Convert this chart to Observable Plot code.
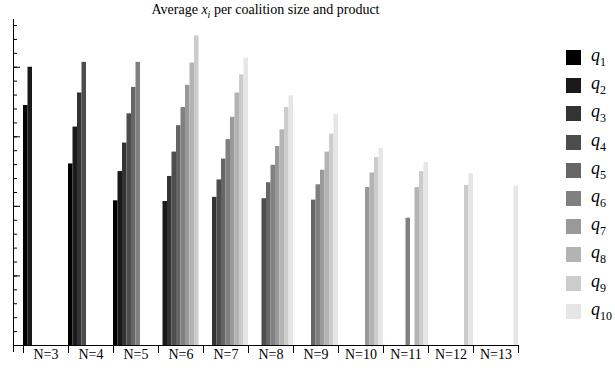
<!DOCTYPE html>
<html><head><meta charset="utf-8">
<script src="https://cdn.jsdelivr.net/npm/d3@7"></script>
<script src="https://cdn.jsdelivr.net/npm/@observablehq/plot@0.6"></script>
<style>
body{margin:0;background:#fff;}
#wrap{position:relative;width:615px;height:368px;font-family:"Liberation Serif","Times New Roman",serif;color:#000;}
#chart svg{position:absolute;left:0;top:0;}
#title{position:absolute;left:0;width:531px;top:1px;text-align:center;font-size:14px;line-height:17px;}
#title sub{font-size:10px;line-height:0;}
#legend{position:absolute;left:566px;top:50px;}
.item{position:relative;height:28.2px;width:49px;}
.sw{position:absolute;left:0;top:0;width:15px;height:15px;}
.lab{position:absolute;left:25px;top:-5px;font-size:18px;line-height:20px;font-style:italic;white-space:nowrap;}
.lab sub{font-style:normal;font-size:12px;line-height:0;}
</style></head>
<body>
<div id="wrap">
  <div id="chart"></div>
  <div id="title">Average <i>x</i><sub><i>i</i></sub> per coalition size and product</div>
  <div id="legend"></div>
</div>
<script>
const coalitions = ["N=3","N=4","N=5","N=6","N=7","N=8","N=9","N=10","N=11","N=12","N=13"];
const products = ["q1","q2","q3","q4","q5","q6","q7","q8","q9","q10"];
const productColors = ["#000000","#1a1a1a","#333333","#4d4d4d","#666666","#808080","#999999","#b3b3b3","#cccccc","#e6e6e6"];

// average x_i per product (q1..q10), null = no bar
const avgN3  = [0.345, 0.400, null, null, null, null, null, null, null, null];
const avgN4  = [0.261, 0.314, 0.363, 0.407, null, null, null, null, null, null];
const avgN5  = [0.208, 0.250, 0.291, 0.333, 0.371, 0.407, null, null, null, null];
const avgN6  = [null, 0.207, 0.243, 0.278, 0.316, 0.342, 0.374, 0.406, 0.445, null];
const avgN7  = [null, null, 0.213, 0.238, 0.268, 0.296, 0.328, 0.363, 0.389, 0.413];
const avgN8  = [null, null, null, 0.211, 0.234, 0.259, 0.286, 0.310, 0.342, 0.359];
const avgN9  = [null, null, null, null, 0.209, 0.231, 0.252, 0.278, 0.304, 0.332];
const avgN10 = [null, null, null, null, null, null, 0.227, 0.248, 0.270, 0.283];
const avgN11 = [null, null, null, null, null, 0.183, null, 0.227, 0.250, 0.263];
const avgN12 = [null, null, null, null, null, null, null, null, 0.230, 0.247];
const avgN13 = [null, null, null, null, null, null, null, null, null, 0.229];

const yMinorTicks = [0,0.02,0.04,0.06,0.08,0.10,0.12,0.14,0.16,0.18,0.20,0.22,0.24,0.26,0.28,0.30,0.32,0.34,0.36,0.38,0.40,0.42,0.44,0.46];
const yMajorTicks = [0,0.1,0.2,0.3,0.4];

const series = [avgN3, avgN4, avgN5, avgN6, avgN7, avgN8, avgN9, avgN10, avgN11, avgN12, avgN13];
const rows = [];
coalitions.forEach((c, ci) => products.forEach((p, pi) => {
  const v = series[ci][pi];
  if (v != null) rows.push({N: c, q: p, v});
}));

const serif = "'Liberation Serif','Times New Roman',serif";
const plot = Plot.plot({
  width: 615, height: 368,
  marginLeft: 23, marginRight: 97, marginTop: 25, marginBottom: 23,
  fx: {domain: coalitions, padding: 0, round: false, label: null},
  x: {domain: products, padding: 0, round: false, axis: null},
  y: {domain: [0, 0.46]},
  color: {domain: products, range: productColors},
  style: {fontFamily: serif, fontSize: "14px", background: "transparent", overflow: "visible"},
  marks: [
    Plot.barY(rows, {fx: "N", x: "q", y: "v", fill: "q"}),
    Plot.ruleY([0], {insetLeft: -10, stroke: "#000"}),
    Plot.ruleX(["N=3"], {fx: d => d, x: () => "q1", dx: -12.25, insetTop: -6, insetBottom: -7, stroke: "#000"}),
    Plot.axisY({ticks: yMinorTicks, tickSize: -4, tickFormat: () => "", dx: -10, label: null}),
    Plot.axisY({ticks: yMajorTicks, tickSize: -7, tickFormat: () => "", dx: -10, label: null}),
    Plot.axisFx({anchor: "bottom", tickSize: 0, tickPadding: 4, fontSize: 14, label: null}),
    Plot.axisFx({anchor: "bottom", tickSize: 8, tickFormat: () => "", dx: -22.5, label: null}),
    Plot.axisFx({anchor: "bottom", tickSize: 8, tickFormat: () => "", dx: 22.5, label: null})
  ]
});
document.getElementById("chart").appendChild(plot);

const legend = document.getElementById("legend");
products.forEach((p, i) => {
  const item = document.createElement("div");
  item.className = "item";
  item.innerHTML = `<div class="sw" style="background:${productColors[i]}"></div><div class="lab">q<sub>${p.slice(1)}</sub></div>`;
  legend.appendChild(item);
});
</script>
</body></html>
